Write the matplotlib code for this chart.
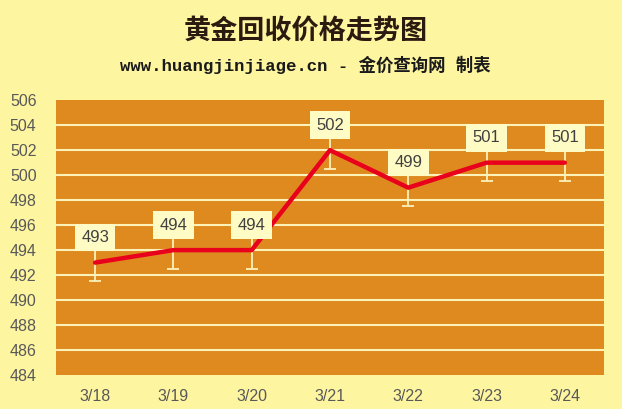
import matplotlib
matplotlib.use("Agg")
import matplotlib.pyplot as plt
import numpy as np

dates = ["3/18", "3/19", "3/20", "3/21", "3/22", "3/23", "3/24"]
prices = [493, 494, 494, 502, 499, 501, 501]
err = [1.5, 1.5, 1.5, 1.5, 1.5, 1.5, 1.5]
yticks = list(range(484, 507, 2))

title = "黄金回收价格走势图"
subtitle = "www.huangjinjiage.cn - 金价查询网 制表"

bg = "#FEF5A0"
plot_bg = "#DE8A1F"
grid_c = "#FDF2B8"
line_c = "#E8001C"
tick_c = "#595959"

fig = plt.figure(figsize=(6.22, 4.09), dpi=100)
fig.patch.set_facecolor(bg)
ax = fig.add_axes([0.090, 0.083, 0.881, 0.672])
ax.set_facecolor(plot_bg)

x = np.arange(len(dates)) + 0.5
ax.set_xlim(0, len(dates))
ax.set_ylim(484, 506)
ax.set_yticks(yticks)
ax.set_xticks(x)
ax.set_xticklabels(dates)
for yv in yticks[1:-1]:
    ax.axhline(yv, color=grid_c, lw=1.5, zorder=1)

ax.errorbar(x, prices, yerr=err, fmt="none", ecolor=grid_c, elinewidth=1.3,
            capsize=4, capthick=1.3, zorder=2)
ax.plot(x, prices, color=line_c, lw=3.2, solid_capstyle="round", zorder=3)

for xi, p in zip(x, prices):
    ax.annotate(str(p), (xi, p), xytext=(0, 18), textcoords="offset points",
                ha="center", va="center", fontsize=12, color="#404040",
                family=["Liberation Sans", "DejaVu Sans"],
                bbox=dict(boxstyle="square,pad=0.38", fc="#FFFBC4", ec="none"),
                zorder=5)

for s in ax.spines.values():
    s.set_visible(False)
ax.tick_params(axis="both", length=0, colors=tick_c, labelsize=11.5)
ax.tick_params(axis="y", pad=14)
ax.tick_params(axis="x", pad=10)
for lbl in ax.get_xticklabels() + ax.get_yticklabels():
    lbl.set_family(["Liberation Sans", "DejaVu Sans"])

fig.text(0.492, 0.925, title, ha="center", va="center", fontsize=19.5, fontweight="bold",
         color="#2a1a10", family=["Noto Sans CJK SC", "DejaVu Sans"])
fig.text(0.491, 0.842, subtitle, ha="center", va="center", fontsize=12.5, fontweight="bold",
         color="#1a1a1a", family=["Liberation Mono", "Noto Sans CJK SC", "DejaVu Sans"])

fig.savefig("out.png", dpi=100, facecolor=bg)
